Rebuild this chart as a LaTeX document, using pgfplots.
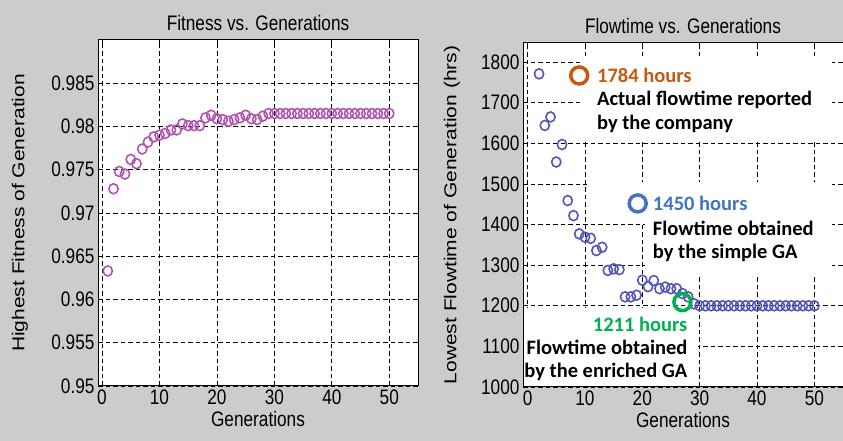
\documentclass[border=0pt]{standalone}
\usepackage{fontspec}
\setmainfont{Liberation Sans}[FakeStretch=0.82]
\newfontfamily\plainsans{Liberation Sans}
\newfontfamily\calib{Carlito}
\usepackage{pgfplots}
\pgfplotsset{compat=1.18}
\definecolor{bg}{RGB}{204,204,204}
\definecolor{fitc}{RGB}{178,84,178}
\definecolor{flowc}{RGB}{86,86,186}
\definecolor{annor}{RGB}{197,90,17}
\definecolor{annbl}{RGB}{68,114,196}
\definecolor{anngr}{RGB}{0,176,80}
\pgfplotsset{
  mystyle/.style={
    scale only axis, clip=false,
    tick align=inside, major tick length=5pt,
    xmajorgrids=true, ymajorgrids=true,
    grid style={black, line width=0.8pt, dash pattern=on 4.5pt off 3pt},
    axis line style={black, line width=1pt},
    every tick/.style={black, line width=0.8pt},
    tick label style={font=\fontsize{21}{21}\selectfont},
    label style={font=\fontsize{21}{21}\selectfont},
    title style={font=\fontsize{21}{21}\selectfont},
    /pgf/number format/assume math mode=true,
    xtick={0,10,20,30,40,50},
    xmin=-0.7, xmax=55,
    xlabel={Generations},
  }
}
\begin{document}
\begin{tikzpicture}[x=1pt,y=1pt]
\useasboundingbox (0,0) rectangle (843,441);
\fill[bg] (0,0) rectangle (843,441);
\fill[white] (98,55) rectangle (418,401);
\fill[white] (523,54) rectangle (843,398);
\begin{axis}[mystyle, at={(98pt,55pt)}, anchor=south west,
  width=320pt, height=346pt,
  ymin=0.95, ymax=0.99,
  ytick={0.95,0.955,0.96,0.965,0.97,0.975,0.98,0.985},
  yticklabels={0.95,0.955,0.96,0.965,0.97,0.975,0.98,0.985},
  title={Fitness vs. Generations},
  ylabel={\scalebox{1}[0.82]{\plainsans\fontsize{21}{21}\selectfont Highest Fitness of Generation}},
  ylabel style={at={(axis description cs:-0.244,0.5)}, anchor=center},
]
\addplot[only marks, mark=o, mark size=5pt, color=fitc, mark options={line width=1.6pt, xscale=0.92}] coordinates {
(1,0.9633)(2,0.9728)(3,0.9748)(4,0.9745)(5,0.9762)(6,0.9757)(7,0.9774)(8,0.9782)(9,0.9788)(10,0.9790)
(11,0.9792)(12,0.9796)(13,0.9796)(14,0.9803)(15,0.9801)(16,0.9801)(17,0.9801)(18,0.9810)(19,0.9813)(20,0.9809)
(21,0.9808)(22,0.9806)(23,0.9808)(24,0.9810)(25,0.9813)(26,0.9809)(27,0.9808)(28,0.9812)(29,0.9815)(30,0.9815)
(31,0.9815)(32,0.9815)(33,0.9815)(34,0.9815)(35,0.9815)(36,0.9815)(37,0.9815)(38,0.9815)(39,0.9815)(40,0.9815)
(41,0.9815)(42,0.9815)(43,0.9815)(44,0.9815)(45,0.9815)(46,0.9815)(47,0.9815)(48,0.9815)(49,0.9815)(50,0.9815)
};
\end{axis}
\begin{axis}[mystyle, at={(523pt,54pt)}, anchor=south west,
  width=320pt, height=344pt,
  xmin=-0.8,
  ymin=1000, ymax=1847,
  ytick={1000,1100,1200,1300,1400,1500,1600,1700,1800},
  yticklabels={1000,1100,1200,1300,1400,1500,1600,1700,1800},
  title={Flowtime vs. Generations},
  ylabel={\scalebox{1}[0.82]{\plainsans\fontsize{21}{21}\selectfont Lowest Flowtime of Generation (hrs)}},
  ylabel style={at={(axis description cs:-0.222,0.5)}, anchor=center},
]
\fill[white] (axis cs:9.5,1605) rectangle (axis cs:53,1815);
\fill[white] (axis cs:10.3,1405) rectangle (axis cs:53,1505);
\fill[white] (axis cs:20.4,1272) rectangle (axis cs:53,1405);
\fill[white] (axis cs:-0.6,1002) rectangle (axis cs:29.7,1195);
\addplot[only marks, mark=o, mark size=5pt, color=flowc, mark options={line width=1.6pt, xscale=0.92}] coordinates {
(2,1771)(3,1644)(4,1665)(5,1554)(6,1597)(7,1459)(8,1422)(9,1377)(10,1369)
(11,1366)(12,1336)(13,1344)(14,1287)(15,1291)(16,1289)(17,1222)(18,1222)(19,1226)(20,1263)
(21,1247)(22,1262)(23,1242)(24,1246)(25,1242)(26,1242)(27,1230)(28,1222)(29,1205)(30,1200)
(31,1200)(32,1200)(33,1200)(34,1200)(35,1200)(36,1200)(37,1200)(38,1200)(39,1200)(40,1200)
(41,1200)(42,1200)(43,1200)(44,1200)(45,1200)(46,1200)(47,1200)(48,1200)(49,1200)(50,1200)
};
\addplot[only marks, mark=o, mark size=8.5pt, color=annor, mark options={line width=3.5pt}] coordinates {(9,1767)};
\addplot[only marks, mark=o, mark size=8.5pt, color=annbl, mark options={line width=3.5pt}] coordinates {(19.2,1452)};
\addplot[only marks, mark=o, mark size=8.5pt, color=anngr, mark options={line width=3.5pt}] coordinates {(27,1209)};
\begin{scope}[every node/.style={font=\calib\bfseries\fontsize{20.5}{20.5}\selectfont, inner sep=0pt}]
\node[anchor=west, text=annor] at (axis cs:12.09,1768) {1784 hours};
\node[anchor=west] at (axis cs:12.09,1707) {Actual flowtime reported};
\node[anchor=west] at (axis cs:12.09,1648) {by the company};
\node[anchor=west, text=annbl] at (axis cs:21.83,1453) {1450 hours};
\node[anchor=west] at (axis cs:21.83,1390) {Flowtime obtained};
\node[anchor=west] at (axis cs:21.83,1331) {by the simple GA};
\node[anchor=east, text=anngr] at (axis cs:27.9,1155) {1211 hours};
\node[anchor=east] at (axis cs:27.9,1098) {Flowtime obtained};
\node[anchor=east] at (axis cs:27.9,1037) {by the enriched GA};
\end{scope}
\end{axis}
\end{tikzpicture}
\end{document}
